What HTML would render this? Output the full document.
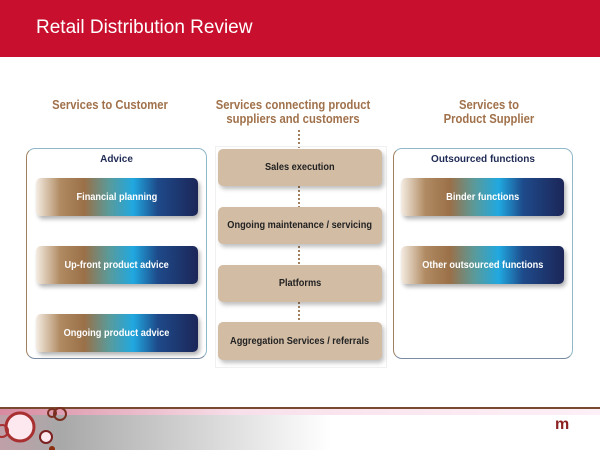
<!DOCTYPE html>
<html><head><style>
*{margin:0;padding:0;box-sizing:border-box}
body{width:600px;height:450px;position:relative;background:#fff;font-family:"Liberation Sans",sans-serif;overflow:hidden}
.a{position:absolute}
.h{color:#a0714a;font-weight:bold;font-size:12.5px;text-align:center;line-height:14px;transform:scaleX(.9)}
.panel{border:1.5px solid #8fb8c8;border-left-color:#a08060;border-bottom-color:#7a8aa0;border-radius:9px}
.g{border-radius:5px;color:#fff;font-weight:bold;font-size:10px;display:flex;align-items:center;justify-content:center;
background:linear-gradient(90deg,#f4ece2 0%,#b08a62 15%,#9a7048 30%,#5a9a9a 45%,#20a8e0 60%,#1e4a8a 75%,#1c2658 100%);box-shadow:2px 3px 4px rgba(0,0,0,.3)}
.m{background:#d2bca4;border-radius:5px;color:#222;font-weight:bold;font-size:10px;display:flex;align-items:center;justify-content:center;box-shadow:2px 3px 4px rgba(0,0,0,.25)}
.g span,.m span{display:inline-block;transform:scaleX(.92);white-space:nowrap}
.sub{color:#1f2a55;font-weight:bold;font-size:10px;text-align:center}
</style></head><body>
<div class="a" style="left:0;top:0;width:600px;height:57px;background:#c8102e"></div>
<div class="a" style="left:36px;top:17px;color:#fff;font-size:19px">Retail Distribution Review</div>

<div class="a h" style="left:22px;top:98px;width:176px">Services to Customer</div>
<div class="a h" style="left:200px;top:98px;width:186px">Services connecting product<br>suppliers and customers</div>
<div class="a h" style="left:400px;top:98px;width:178px">Services to<br>Product Supplier</div>

<div class="a" style="left:298px;top:130px;width:0;height:190px;border-left:2px dotted #a08060"></div>

<div class="a panel" style="left:26px;top:148px;width:181px;height:211px"></div>
<div class="a sub" style="left:26px;top:154px;width:181px">Advice</div>
<div class="a g" style="left:36px;top:178px;width:162px;height:38px"><span>Financial planning</span></div>
<div class="a g" style="left:36px;top:246px;width:162px;height:38px"><span>Up-front product advice</span></div>
<div class="a g" style="left:36px;top:314px;width:162px;height:38px"><span>Ongoing product advice</span></div>

<div class="a" style="left:215px;top:146px;width:172px;height:222px;border:1px solid #f0f0f0"></div>
<div class="a m" style="left:218px;top:149px;width:164px;height:37px"><span>Sales execution</span></div>
<div class="a m" style="left:218px;top:207px;width:164px;height:37px"><span>Ongoing maintenance / servicing</span></div>
<div class="a m" style="left:218px;top:265px;width:164px;height:37px"><span>Platforms</span></div>
<div class="a m" style="left:218px;top:322px;width:164px;height:38px"><span>Aggregation Services / referrals</span></div>

<div class="a panel" style="left:393px;top:148px;width:180px;height:211px"></div>
<div class="a sub" style="left:393px;top:154px;width:180px">Outsourced functions</div>
<div class="a g" style="left:401px;top:178px;width:163px;height:38px"><span>Binder functions</span></div>
<div class="a g" style="left:401px;top:246px;width:163px;height:38px"><span>Other outsourced functions</span></div>

<div class="a" style="left:0;top:407px;width:600px;height:2px;background:#7a4a30"></div>
<div class="a" style="left:0;top:409px;width:600px;height:6px;background:linear-gradient(90deg,#d88aa0,#f8e0ea 40%,#fdf0f6)"></div>
<div class="a" style="left:0;top:415px;width:600px;height:35px;background:linear-gradient(90deg,#c0a0a8 0%,#a8a8a8 10%,#d8d8d8 35%,#fff 55%)"></div>
<svg class="a" style="left:0;top:405px" width="70" height="45">
<circle cx="20" cy="22" r="14" fill="#fde8f0" stroke="#a83030" stroke-width="3"/>
<circle cx="60" cy="9" r="6" fill="none" stroke="#7a3020" stroke-width="2"/>
<circle cx="52" cy="8" r="4" fill="none" stroke="#7a3020" stroke-width="2"/>
<circle cx="46" cy="32" r="6" fill="#fde8f0" stroke="#7a2020" stroke-width="2"/>
<circle cx="2" cy="26" r="6" fill="none" stroke="#a83030" stroke-width="2"/>
<circle cx="52" cy="44" r="3" fill="#8a3010"/>
</svg>
<div class="a" style="left:555px;top:416px;color:#8a2020;font-weight:bold;font-size:16px">m</div>
</body></html>
